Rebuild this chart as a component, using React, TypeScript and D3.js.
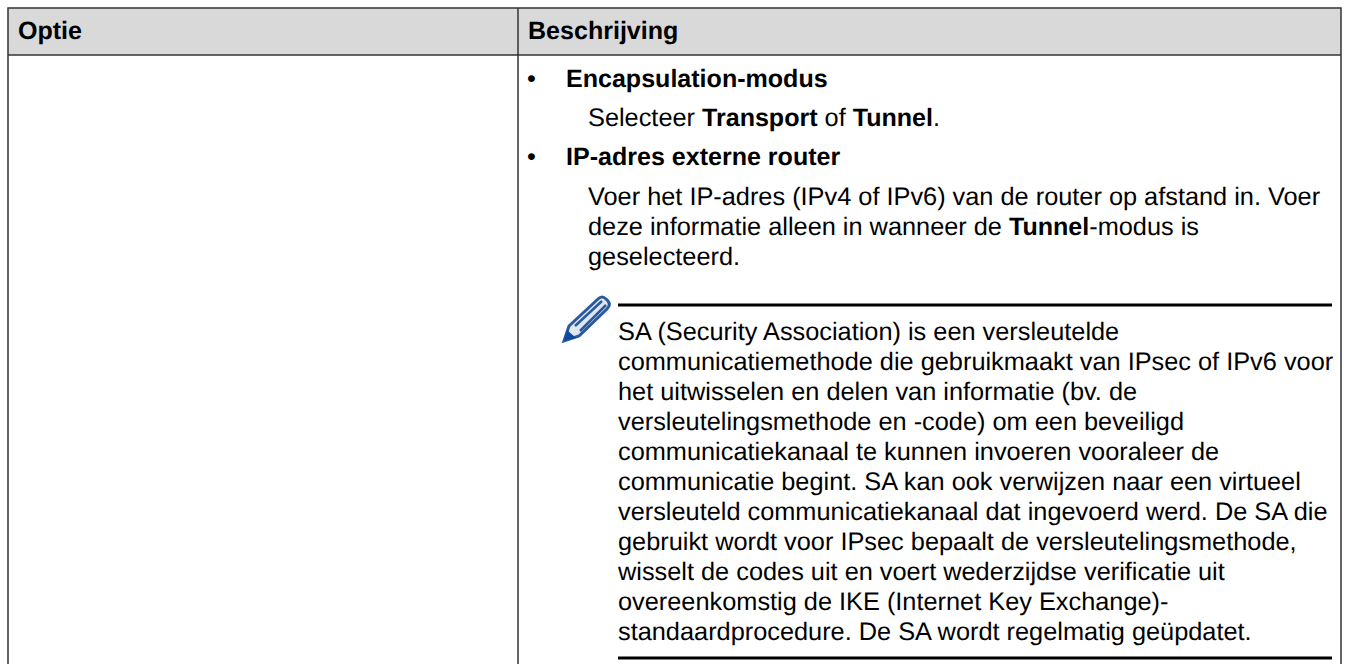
import * as d3 from "d3";

const headers = ["Optie", "Beschrijving"];
const noteLines = [
  "SA (Security Association) is een versleutelde",
  "communicatiemethode die gebruikmaakt van IPsec of IPv6 voor",
  "het uitwisselen en delen van informatie (bv. de",
  "versleutelingsmethode en -code) om een beveiligd",
  "communicatiekanaal te kunnen invoeren vooraleer de",
  "communicatie begint. SA kan ook verwijzen naar een virtueel",
  "versleuteld communicatiekanaal dat ingevoerd werd. De SA die",
  "gebruikt wordt voor IPsec bepaalt de versleutelingsmethode,",
  "wisselt de codes uit en voert wederzijdse verificatie uit",
  "overeenkomstig de IKE (Internet Key Exchange)-",
  "standaardprocedure. De SA wordt regelmatig geüpdatet.",
];
const tunnelLines = [
  "Voer het IP-adres (IPv4 of IPv6) van de router op afstand in. Voer",
  "deze informatie alleen in wanneer de ",
  "geselecteerd.",
];

const W = 1347;
const H = 664;
const font = "'Liberation Sans', Arial, sans-serif";
const fs = 25.33;
const bold = { fontWeight: "bold", fontSize: 25.05 };

export default function App() {
  const noteY = d3.scalePoint<number>().domain(d3.range(noteLines.length)).range([340, 640]);
  const tunnelY = d3.scalePoint<number>().domain(d3.range(tunnelLines.length)).range([205, 265]);
  const colX = d3.scaleOrdinal<string, number>().domain(headers).range([8, 518]);
  return (
    <svg width={W} height={H} style={{ position: "absolute", left: 0, top: 0, textRendering: "geometricPrecision" }} fontFamily={font} fontSize={fs} fill="#000">
      <rect x={8} y={8} width={1333} height={47} fill="#d9d9d9" />
      <rect x={8} y={8} width={1333} height={670} fill="none" stroke="#333" strokeWidth={1.5} />
      <line x1={8} x2={1341} y1={55} y2={55} stroke="#333" strokeWidth={1.5} />
      <line x1={518} x2={518} y1={8} y2={664} stroke="#333" strokeWidth={1.5} />
      {headers.map((h) => (
        <text key={h} x={colX(h)! + 10} y={39} style={bold}>{h}</text>
      ))}
      <text x={527} y={87}>•</text>
      <text x={566} y={87} style={bold}>Encapsulation-modus</text>
      <text x={588} y={126}>Selecteer <tspan style={bold}>Transport</tspan> of <tspan style={bold}>Tunnel</tspan>.</text>
      <text x={527} y={165}>•</text>
      <text x={566} y={165} style={bold}>IP-adres externe router</text>
      <text x={588} y={tunnelY(0)}>{tunnelLines[0]}</text>
      <text x={588} y={tunnelY(1)}>{tunnelLines[1]}<tspan style={bold}>Tunnel</tspan>-modus is</text>
      <text x={588} y={tunnelY(2)}>{tunnelLines[2]}</text>
      <line x1={618} x2={1332} y1={305} y2={305} stroke="#000" strokeWidth={3} />
      <line x1={618} x2={1332} y1={658} y2={658} stroke="#000" strokeWidth={3} />
      <g transform="translate(562,295)">
        <path d="M2 46 L7 31 L36 4 Q40 0 44 4 L46 6 Q49 10 45 14 L17 41 Z" fill="#dfe7f2" stroke="#2a5a9e" strokeWidth={3} />
        <path d="M13 31 L40 6 M18 36 L44 10" stroke="#2a5a9e" strokeWidth={2.5} fill="none" />
        <path d="M2 46 L5 35 L14 43 Z" fill="#104a9a" />
      </g>
      {noteLines.map((l, i) => (
        <text key={i} x={618} y={noteY(i)}>{l}</text>
      ))}
    </svg>
  );
}
